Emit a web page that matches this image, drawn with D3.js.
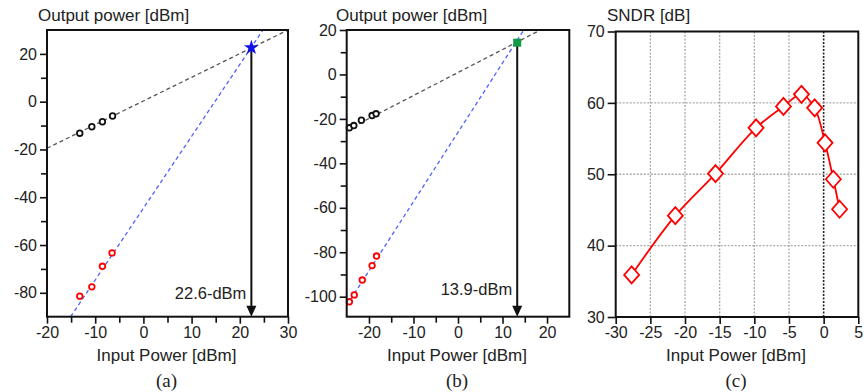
<!DOCTYPE html>
<html>
<head>
<meta charset="utf-8">
<script src="https://cdn.jsdelivr.net/npm/d3@7"></script>
<style>
body { margin: 0; background: #fff; }
text { font-family: "Liberation Sans", Arial, sans-serif; fill: #222; }
</style>
</head>
<body>
<svg id="chart" width="864" height="392"></svg>
<script>
// ---- panel (a) ----
const fundA = [{ x: -13.2, y: -13.2 }, { x: -10.7, y: -10.5 }, { x: -8.5, y: -8.4 }, { x: -6.4, y: -6.0 }];
const im3A = [{ x: -13.2, y: -81.4 }, { x: -10.7, y: -77.5 }, { x: -8.5, y: -68.9 }, { x: -6.5, y: -63.3 }];
const fundFitA = [{ x: -20, y: -19.5 }, { x: 30, y: 30 }];
const im3FitA = [{ x: -15.1, y: -90 }, { x: 24.8, y: 30 }];
const ip3A = { x: 22.4, y: 22.6, label: "22.6-dBm" };

// ---- panel (b) ----
const fundB = [{ x: -24.4, y: -24 }, { x: -23.4, y: -23 }, { x: -21.7, y: -20.6 }, { x: -19.3, y: -18.5 }, { x: -18.4, y: -17.7 }];
const im3B = [{ x: -24.4, y: -102.3 }, { x: -23.3, y: -99.2 }, { x: -21.5, y: -92.5 }, { x: -19.3, y: -86 }, { x: -18.3, y: -81.7 }];
const fundFitB = [{ x: -25, y: -25 }, { x: 18.5, y: 20 }];
const im3FitB = [{ x: -25, y: -104 }, { x: 14.6, y: 19.5 }];
const ip3B = { x: 13.3, y: 14.3, label: "13.9-dBm" };

// ---- panel (c) ----
const sndrIn = [-27.7, -21.4, -15.6, -9.75, -5.8, -3.2, -1.3, 0.2, 1.4, 2.3];
const sndrVal = [35.9, 44.2, 50.1, 56.5, 59.5, 61.2, 59.3, 54.4, 49.3, 45.1];

const svg = d3.select("#chart");

function frame(g, x, y) {
    g.append("rect")
        .attr("x", x.range()[0]).attr("y", y.range()[1])
        .attr("width", x.range()[1] - x.range()[0])
        .attr("height", y.range()[0] - y.range()[1])
        .attr("fill", "none").attr("stroke", "#111").attr("stroke-width", 2);
}

function axes(g, x, y, opt) {
    const xAxis = d3.axisBottom(x).tickValues(opt.xMajor).tickSize(7).tickPadding(3).tickFormat((d) => String(d));
    const yAxis = d3.axisLeft(y).tickValues(opt.yMajor).tickSize(opt.yTick || 7).tickPadding(opt.yPad || 3).tickFormat((d) => String(d));
    const gx = g.append("g").attr("transform", `translate(0,${y.range()[0]})`).call(xAxis);
    const gy = g.append("g").attr("transform", `translate(${x.range()[0]},0)`).call(yAxis);
    [gx, gy].forEach((a) => {
        a.select(".domain").remove();
        a.selectAll("line").attr("stroke", "#111").attr("stroke-width", 1.6);
        a.selectAll("text").style("font-size", "16px").attr("fill", "#222");
    });
    if (opt.xMinor) {
        g.append("g").attr("transform", `translate(0,${y.range()[0]})`)
            .call(d3.axisBottom(x).tickValues(opt.xMinor).tickSize(6).tickFormat(""))
            .call((a) => a.select(".domain").remove())
            .selectAll("line").attr("stroke", "#111").attr("stroke-width", 1.6);
    }
    if (opt.yMinor) {
        g.append("g").attr("transform", `translate(${x.range()[0]},0)`)
            .call(d3.axisLeft(y).tickValues(opt.yMinor).tickSize(6).tickFormat(""))
            .call((a) => a.select(".domain").remove())
            .selectAll("line").attr("stroke", "#111").attr("stroke-width", 1.6);
    }
    g.append("text").attr("x", opt.titleX).attr("y", 21).style("font-size", "17px").text(opt.title);
    g.append("text").attr("x", (x.range()[0] + x.range()[1]) / 2 - 1).attr("y", 361)
        .attr("text-anchor", "middle").style("font-size", "17px").text("Input Power [dBm]");
    g.append("text").attr("x", (x.range()[0] + x.range()[1]) / 2 - 1).attr("y", 387)
        .attr("text-anchor", "middle").style("font-family", "'Liberation Serif', 'Times New Roman', serif")
        .style("font-size", "19px").attr("fill", "#111").text(opt.caption);
}

function ip3Panel(cfg) {
    const x = d3.scaleLinear().domain(cfg.xDomain).range(cfg.xRange);
    const y = d3.scaleLinear().domain(cfg.yDomain).range([316.7, 30]);
    const g = svg.append("g");
    const line = d3.line().x((d) => x(d.x)).y((d) => y(d.y));

    g.append("path").attr("d", line(cfg.fundFit)).attr("fill", "none")
        .attr("stroke", "#555").attr("stroke-width", 1.3).attr("stroke-dasharray", "4,3");
    g.append("path").attr("d", line(cfg.im3Fit)).attr("fill", "none")
        .attr("stroke", "#5060ff").attr("stroke-width", 1.3).attr("stroke-dasharray", "4,3");

    g.selectAll("circle.fund").data(cfg.fund).join("circle").attr("class", "fund")
        .attr("cx", (d) => x(d.x)).attr("cy", (d) => y(d.y)).attr("r", 2.8)
        .attr("fill", "#fff").attr("stroke", "#111").attr("stroke-width", 1.8);
    g.selectAll("circle.im3").data(cfg.im3).join("circle").attr("class", "im3")
        .attr("cx", (d) => x(d.x)).attr("cy", (d) => y(d.y)).attr("r", 2.8)
        .attr("fill", "#fff").attr("stroke", "#f00").attr("stroke-width", 1.8);

    // arrow from intercept down to the x axis
    const ax = x(cfg.ip3.x);
    const bottom = y.range()[0];
    g.append("line").attr("x1", ax).attr("x2", ax).attr("y1", y(cfg.ip3.y)).attr("y2", bottom - 8)
        .attr("stroke", "#111").attr("stroke-width", 2);
    g.append("path").attr("d", `M${ax - 5},${bottom - 11} L${ax + 5},${bottom - 11} L${ax},${bottom} Z`).attr("fill", "#111");
    g.append("text").attr("x", ax - 5).attr("y", cfg.labelY).attr("text-anchor", "end")
        .style("font-size", "16.5px").text(cfg.ip3.label);

    if (cfg.marker === "star") {
        g.append("path").attr("d", d3.symbol(d3.symbolStar, 70)())
            .attr("transform", `translate(${ax},${y(cfg.ip3.y)})`).attr("fill", "#1010ee");
    } else {
        g.append("rect").attr("x", ax - 4).attr("y", y(cfg.ip3.y) - 4).attr("width", 8).attr("height", 8)
            .attr("fill", "#119944");
    }

    frame(g, x, y);
    axes(g, x, y, cfg);
}

ip3Panel({
    xDomain: [-20, 30], xRange: [47, 288], yDomain: [-90, 30],
    xMajor: d3.range(-20, 31, 10), xMinor: [-15, -5, 5, 15, 25],
    yMajor: d3.range(-80, 21, 20), yMinor: [-70, -50, -30, -10, 10],
    fund: fundA, im3: im3A, fundFit: fundFitA, im3Fit: im3FitA, ip3: ip3A,
    marker: "star", labelY: 299, title: "Output power [dBm]", titleX: 38, caption: "(a)"
});

ip3Panel({
    xDomain: [-25, 25], xRange: [346.7, 569.3], yDomain: [-109, 20],
    xMajor: d3.range(-20, 21, 10), xMinor: [-15, -5, 5, 15],
    yMajor: d3.range(-100, 21, 20), yMinor: [-90, -70, -50, -30, -10, 10],
    fund: fundB, im3: im3B, fundFit: fundFitB, im3Fit: im3FitB, ip3: ip3B,
    marker: "square", labelY: 295, title: "Output power [dBm]", titleX: 336, caption: "(b)"
});

// ---- SNDR panel ----
(function () {
    const x = d3.scaleLinear().domain([-30, 5]).range([615.7, 858.3]);
    const y = d3.scaleLinear().domain([30, 70]).range([317, 31.5]);
    const g = svg.append("g");

    g.selectAll("line.vgrid").data(d3.range(-25, 1, 5)).join("line").attr("class", "vgrid")
        .attr("x1", (d) => x(d)).attr("x2", (d) => x(d)).attr("y1", y(30)).attr("y2", y(70))
        .attr("stroke", (d) => (d === 0 ? "#222" : "#aaa")).attr("stroke-width", (d) => (d === 0 ? 1.6 : 1.3))
        .attr("stroke-dasharray", "2,1.5");
    g.selectAll("line.hgrid").data([40, 50, 60]).join("line").attr("class", "hgrid")
        .attr("x1", x(-30)).attr("x2", x(5)).attr("y1", (d) => y(d)).attr("y2", (d) => y(d))
        .attr("stroke", "#aaa").attr("stroke-width", 1.3).attr("stroke-dasharray", "2,1.5");

    const pts = sndrIn.map((v, i) => ({ x: v, y: sndrVal[i] }));
    g.append("path").datum(pts)
        .attr("d", d3.line().x((d) => x(d.x)).y((d) => y(d.y)).curve(d3.curveCatmullRom.alpha(0.5)))
        .attr("fill", "none").attr("stroke", "#f00").attr("stroke-width", 1.8);
    g.selectAll("path.dia").data(pts).join("path").attr("class", "dia")
        .attr("d", "M0,-8.5 L7.5,0 L0,8.5 L-7.5,0 Z")
        .attr("transform", (d) => `translate(${x(d.x)},${y(d.y)})`)
        .attr("fill", "#fff").attr("stroke", "#f00").attr("stroke-width", 1.8);

    frame(g, x, y);
    axes(g, x, y, {
        xMajor: d3.range(-30, 6, 5), yMajor: d3.range(30, 71, 10), yTick: 8, yPad: 0,
        title: "SNDR [dB]", titleX: 607, caption: "(c)"
    });
})();
</script>
</body>
</html>
